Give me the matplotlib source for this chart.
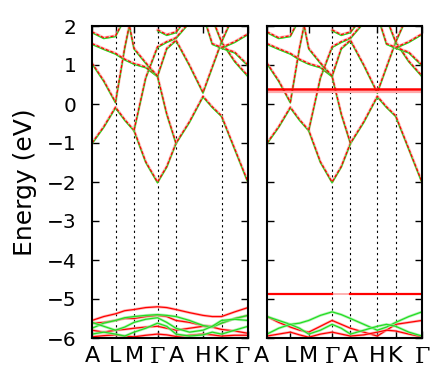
import numpy as np
import matplotlib
matplotlib.use("Agg")
import matplotlib.pyplot as plt
import matplotlib.transforms as mtransforms

nan = np.nan

# distance along A-L-M-G-A-H-K-G, high symmetry points plus segment midpoints
k_path = [0, 11.75, 23.5, 32.75, 42, 53.75, 65.5, 74.75, 84, 97.5, 111, 120.25, 129.5, 142.75, 156]
sym_pos = [0, 23.5, 42, 65.5, 84, 111, 129.5, 156]
sym_labels = ['A', 'L', 'M', 'Γ', 'A', 'H', 'K', 'Γ']

# bands near the Fermi level (same in both panels), energies in eV
b1 = [-1.0, -0.58, -0.08, -0.4, -0.67, -1.48, -2.0, -1.6, -1.0, -0.45, 0.2, -0.07, -0.3, -1.15, -2.0]
b2 = [1.05, 0.6, 0.05, 1.45, 2.6, nan, nan, nan, nan, nan, nan, nan, nan, nan, nan]
b3 = [nan, nan, nan, nan, -0.67, 0.68, 1.47, 1.6, 1.7, 2.1, 2.7, nan, nan, nan, nan]
b4 = [1.55, 1.42, 1.3, 1.15, 1.04, 0.95, 0.72, -0.25, -1.0, nan, nan, nan, nan, nan, nan]
b5 = [nan, nan, nan, 2.6, 1.43, 1.06, 0.72, 1.43, 1.64, 1.0, 0.3, 0.95, 1.6, 1.1, 0.72]
b6 = [1.85, 1.7, 1.75, 2.2, nan, nan, 1.9, 1.78, 1.85, 2.3, nan, nan, nan, nan, nan]
b7 = [nan, nan, nan, nan, nan, nan, nan, nan, nan, nan, nan, 2.2, 1.6, 2.35, nan]
b8 = [nan, nan, nan, nan, nan, nan, nan, nan, nan, nan, 2.3, 1.55, 1.45, 1.33, 1.0]
b9 = [nan, nan, nan, nan, nan, nan, nan, nan, nan, nan, nan, nan, 1.45, 1.6, 1.8]

# low lying bands, left panel
low_r1 = [-5.55, -5.45, -5.38, -5.3, -5.27, -5.22, -5.2, -5.22, -5.27, -5.35, -5.42, -5.45, -5.45, -5.33, -5.22]
low_r2 = [-5.62, -5.6, -5.55, -5.5, -5.5, -5.45, -5.42, -5.45, -5.55, -5.6, -5.68, -5.7, -5.62, -5.5, -5.42]
low_r3 = [-5.8, -5.85, -5.8, -5.78, -5.75, -5.72, -5.7, -5.75, -5.8, -5.75, -5.7, -5.72, -5.78, -5.82, -5.88]
low_r4 = [-5.97, -5.94, -5.92, -5.95, -5.97, -5.93, -5.9, -5.92, -5.96, -5.93, -5.9, -5.92, -5.95, -5.93, -5.93]
low_g1 = [-5.75, -5.62, -5.55, -5.48, -5.45, -5.42, -5.4, -5.42, -5.45, -5.55, -5.68, -5.72, -5.62, -5.5, -5.42]
low_g2 = [-5.6, -5.7, -5.8, -5.72, -5.6, -5.52, -5.48, -5.6, -5.75, -5.85, -5.8, -5.7, -5.55, -5.52, -5.55]
low_g3 = [-5.9, -5.85, -5.9, -5.95, -5.85, -5.75, -5.62, -5.7, -5.9, -5.95, -5.92, -5.85, -5.9, -5.8, -5.7]

# right panel: flat bands and the low lying bands
flat_up = [0.38] * 15
flat_up2 = [0.32] * 15
flat_low = [-4.87, -4.87, -4.87, -4.87, -4.87, -4.87, -4.87, nan, -4.87, -4.87, -4.87, -4.87, -4.87, -4.87, -4.87]
rlow_g1 = [-5.45, -5.55, -5.65, -5.62, -5.55, -5.42, -5.33, -5.4, -5.5, -5.65, -5.8, -5.72, -5.6, -5.45, -5.33]
rlow_r1 = [-5.45, -5.6, -5.72, -5.8, -5.85, -5.7, -5.55, -5.65, -5.75, -5.85, -5.95, -5.8, -5.65, -5.6, -5.55]
rlow_g2 = [-5.9, -5.75, -5.65, -5.75, -5.9, -5.8, -5.65, -5.75, -5.9, -5.8, -5.7, -5.65, -5.7, -5.85, -5.95]
rlow_r2 = [-5.95, -5.9, -5.85, -5.92, -5.98, -5.9, -5.85, -5.9, -5.95, -5.92, -5.85, -5.8, -5.82, -5.9, -5.97]

upper_bands = [b1, b2, b3, b4, b5, b6, b7, b8, b9]


def draw_mixed(ax, e):
    e = np.array(e)
    ax.plot(k_path, e, color='#ff9a9a', lw=2.0, alpha=0.7)
    ax.plot(k_path, e - 0.025, color='#22dd22', lw=0.9)
    ax.plot(k_path, e, color='red', lw=0.9, dashes=(2.5, 1.5))


def draw_single(ax, e, color, halo):
    e = np.array(e)
    ax.plot(k_path, e, color=halo, lw=2.0, alpha=0.7)
    ax.plot(k_path, e, color=color, lw=0.9)


def setup(ax, vline_idx, show_y):
    ax.set_xlim(0, 156)
    ax.set_ylim(-6, 2)
    for i in vline_idx:
        ax.axvline(sym_pos[i], color='k', lw=0.8, ls=(0, (2, 3)), zorder=0)
    ax.set_yticks(range(-6, 3))
    ax.set_xticks(sym_pos)
    ax.set_xticklabels(sym_labels, fontsize=16)
    for lab in ax.get_xticklabels():
        if lab.get_text() == 'Γ':
            lab.set_family('DejaVu Serif')
    ax.tick_params(direction='in', top=True, right=True, length=5, width=1)
    ax.tick_params(axis='x', pad=6)
    ax.tick_params(axis='y', pad=11, labelsize=14.5)
    if not show_y:
        ax.set_yticklabels([])
    for s in ax.spines.values():
        s.set_linewidth(1.5)


fig = plt.figure(figsize=(4.41, 3.82), dpi=100)
ax1 = fig.add_axes([92 / 441, 44 / 382, 156 / 441, 312 / 382])
ax2 = fig.add_axes([267 / 441, 44 / 382, 155 / 441, 312 / 382])

setup(ax1, [1, 2, 3, 4, 6], True)
setup(ax2, [3, 4, 5, 6], False)

for b in upper_bands:
    draw_mixed(ax1, b)
    draw_mixed(ax2, b)

for b in [low_r1, low_r2, low_r3, low_r4]:
    draw_single(ax1, b, 'red', '#ff9a9a')
for b in [low_g1, low_g2, low_g3]:
    draw_single(ax1, b, '#22dd22', '#9aee9a')

ax2.plot(k_path, flat_up2, color='#ffaaaa', lw=1.6)
ax2.plot(k_path, flat_up, color='red', lw=1.8)
ax2.plot(k_path, [-4.87] * 15, color='#ffb0b0', lw=1.4)
ax2.plot(k_path, flat_low, color='red', lw=1.6)
for b in [rlow_r1, rlow_r2]:
    draw_single(ax2, b, 'red', '#ff9a9a')
for b in [rlow_g1, rlow_g2]:
    draw_single(ax2, b, '#22dd22', '#9aee9a')

ax1.set_ylabel('Energy (eV)', fontsize=18)
ax1.yaxis.set_label_coords(-0.35, 0.5)

# labels at the panel boundary are nudged left as in the original
for ax, idx in [(ax1, 7), (ax2, 0)]:
    lab = ax.get_xticklabels()[idx]
    lab.set_transform(lab.get_transform() + mtransforms.ScaledTranslation(-6 / 100, 0, fig.dpi_scale_trans))

fig.savefig('out.png', dpi=100)
